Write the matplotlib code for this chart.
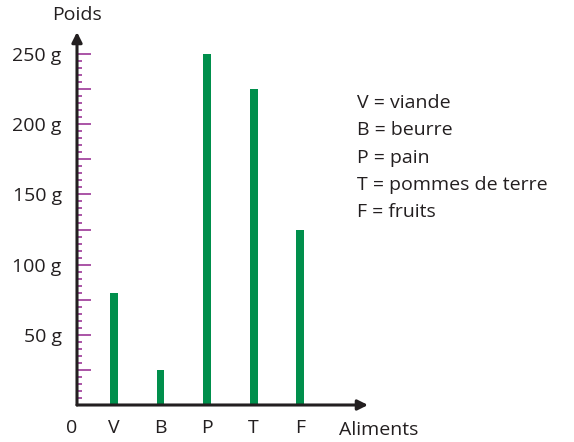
import matplotlib
matplotlib.use('Agg')
from matplotlib import pyplot as plt
from matplotlib.ticker import FixedLocator, FuncFormatter

# masses eaten per food, in grams
codes = ['V', 'B', 'P', 'T', 'F']
poids = [80, 25, 250, 225, 125]
legende = ['V = viande', 'B = beurre', 'P = pain', 'T = pommes de terre', 'F = fruits']

plt.rcParams['font.family'] = ['Open Sans', 'DejaVu Sans']
fs = 14
purple = '#a4479f'
green = '#008f4c'

W, H = 574, 442
fig = plt.figure(figsize=(W / 100, H / 100), dpi=100)
# axes box in pixels: x from 77 to 368, y from 32 (top) to 405 (bottom)
ax = fig.add_axes([77 / W, (H - 405) / H, (368 - 77) / W, (405 - 32) / H])

x = list(range(1, len(codes) + 1))
ax.bar(x, poids, width=0.17, color=green)
ax.set_xlim(0.204, 6.46)
ax.set_ylim(0, 265.7)

for s in ['top', 'right', 'left', 'bottom']:
    ax.spines[s].set_visible(False)

# axes drawn as arrows
arrow = dict(arrowstyle='-|>,head_length=0.6,head_width=0.3', color='#231f20', lw=2.2,
             shrinkA=0, shrinkB=0)
ax.annotate('', xy=(0, 1), xytext=(0, 0), xycoords='axes fraction', arrowprops=arrow)
ax.annotate('', xy=(1, 0), xytext=(0, 0), xycoords='axes fraction', arrowprops=arrow)

# y ticks: long every 25 g, short every 5 g, only 50 g steps labelled
ax.yaxis.set_major_locator(FixedLocator(range(25, 251, 25)))
ax.yaxis.set_minor_locator(FixedLocator([v for v in range(5, 251, 5) if v % 25]))
ax.yaxis.set_major_formatter(FuncFormatter(lambda v, p: f'{int(v)} g' if v % 50 == 0 else ''))
ax.tick_params(axis='y', which='major', direction='in', length=10, width=1.3,
               color=purple, labelsize=fs, labelcolor='#231f20', pad=11)
ax.tick_params(axis='y', which='minor', direction='in', length=3.8, width=1.3, color=purple)

ax.set_xticks(x)
ax.set_xticklabels(codes)
ax.tick_params(axis='x', length=0, labelsize=fs, labelcolor='#231f20', pad=10)

ax.text(-0.018, -0.062, '0', transform=ax.transAxes, fontsize=fs, color='#231f20',
        ha='center', va='center')
fig.text(379 / W, 1 - 430 / H, 'Aliments', fontsize=fs, color='#231f20', ha='center', va='center')
fig.text(77 / W, 1 - 15 / H, 'Poids', fontsize=fs, color='#231f20', ha='center', va='center')

for i, t in enumerate(legende):
    fig.text(357 / W, 1 - (103 + 27.3 * i) / H, t, fontsize=fs, color='#231f20',
             ha='left', va='center')

fig.savefig('out.png', dpi=100)
